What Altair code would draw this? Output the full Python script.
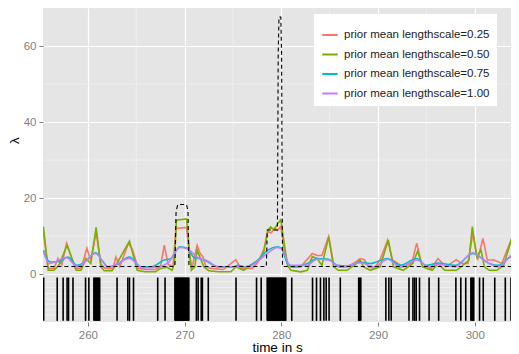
import altair as alt
import pandas as pd

labels = ["prior mean lengthscale=0.25", "prior mean lengthscale=0.50",
          "prior mean lengthscale=0.75", "prior mean lengthscale=1.00"]
colors = ["#F8766D", "#7CAE00", "#00BFC4", "#C77CFF"]

t_025 = [255.4, 255.9, 256.5, 256.9, 257.3, 257.8, 258.7, 259.3, 259.9, 260.3, 260.85, 261.35, 261.8,
         262.6, 262.9, 263.3, 264.2, 264.6, 265.2, 266.0, 267.0, 267.5, 267.9, 268.3, 268.8, 269.1,
         270.2, 270.5, 270.75, 271.3, 271.6, 271.9, 272.2, 272.7, 274.0, 275.3, 275.8, 277.0, 277.6,
         278.2, 278.6, 278.95, 279.3, 279.6, 279.95, 280.3, 280.65, 281.0, 282.0, 283.2, 283.7, 284.2,
         284.9, 285.4, 286.0, 286.8, 287.6, 288.15, 288.6, 289.0, 289.6, 290.2, 291.0, 291.5, 292.6,
         293.5, 294.0, 294.5, 295.5, 296.2, 297.0, 298.1, 298.6, 299.3, 299.8, 300.3, 300.85, 301.3,
         302.0, 302.8, 303.75, 304.0]
v_025 = [11.0, 1.5, 1.5, 4.1, 2.5, 8.1, 1.5, 1.5, 6.8, 3.5, 11.0, 2.5, 1.5,
         1.5, 4.5, 2.0, 8.1, 6.5, 1.5, 1.2, 1.2, 2.0, 7.6, 2.5, 2.0, 12.0,
         12.3, 5.0, 1.5, 7.6, 5.5, 4.5, 2.0, 1.5, 1.2, 3.8, 1.5, 1.5, 3.2,
         6.5, 11.2, 10.8, 12.1, 11.5, 12.5, 6.5, 2.8, 1.9, 1.9, 5.4, 4.9, 4.9,
         9.9, 2.8, 1.9, 1.9, 3.0, 4.1, 3.8, 1.9, 1.5, 3.7, 9.0, 3.7, 1.9,
         3.0, 8.1, 2.8, 1.5, 4.1, 1.9, 3.8, 2.8, 2.8, 10.7, 3.7, 9.4, 3.7,
         3.7, 2.8, 8.9, 6.5]

t_050 = [255.4, 255.9, 256.5, 257.0, 257.85, 258.8, 259.3, 259.8, 260.3, 260.85, 261.35, 261.7, 262.5,
         263.0, 264.3, 265.1, 265.9, 267.0, 267.5, 268.2, 268.7, 268.95, 269.15, 270.2, 270.5, 270.7,
         271.05, 271.3, 271.7, 272.0, 272.5, 273.5, 274.8, 275.3, 276.1, 277.6, 277.9, 278.2, 278.6,
         278.9, 279.25, 279.6, 279.95, 280.3, 280.65, 281.0, 282.0, 282.7, 283.2, 283.7, 284.2, 284.9,
         285.4, 285.9, 286.8, 287.8, 288.15, 288.5, 289.2, 290.2, 291.06, 291.6, 292.6, 293.6, 294.1,
         294.6, 295.6, 296.2, 296.9, 298.1, 298.6, 299.4, 299.75, 300.2, 300.65, 301.0, 301.5, 302.3,
         303.0, 303.75, 304.0]
v_050 = [12.5, 1.0, 1.0, 2.3, 7.6, 1.0, 1.0, 4.1, 2.8, 12.3, 1.9, 0.9, 0.9,
         2.8, 8.7, 1.0, 0.6, 0.6, 1.5, 1.8, 1.0, 2.8, 14.2, 14.5, 6.3, 1.0,
         1.9, 6.3, 3.7, 1.9, 0.9, 0.6, 0.6, 1.9, 1.0, 3.7, 4.1, 6.0, 11.6,
         12.4, 11.6, 13.2, 14.3, 8.1, 2.3, 1.0, 0.6, 1.0, 4.6, 4.1, 2.3, 9.8,
         1.9, 1.0, 1.0, 2.8, 3.7, 1.9, 1.0, 1.9, 8.9, 1.9, 1.0, 2.8, 6.1,
         1.9, 1.0, 2.8, 1.0, 1.0, 1.9, 3.7, 12.5, 4.6, 6.3, 1.9, 1.0, 1.0,
         2.3, 8.8, 7.0]

t_075 = [255.4, 255.8, 256.2, 257.1, 257.9, 258.9, 259.6, 260.8, 261.5, 262.1, 263.0, 264.3, 265.5,
         266.5, 267.9, 268.6, 269.5, 270.3, 271.0, 271.6, 272.2, 273.5, 275.0, 275.5, 276.2, 277.6,
         278.6, 279.6, 280.0, 280.65, 281.3, 282.7, 283.7, 284.9, 285.8, 286.8, 288.2, 289.2, 291.0,
         292.3, 294.0, 295.0, 296.2, 298.0, 299.8, 301.5, 302.5, 303.8, 304.0]
v_075 = [6.3, 3.8, 3.2, 3.3, 4.5, 2.3, 3.0, 5.6, 3.5, 1.9, 2.5, 4.5, 1.9,
         1.9, 3.7, 4.1, 7.2, 6.8, 4.3, 4.1, 3.5, 1.9, 1.9, 2.3, 1.9, 3.7,
         6.3, 7.2, 6.8, 2.8, 1.9, 2.8, 4.1, 3.9, 2.3, 2.1, 3.2, 2.8, 4.1,
         2.3, 4.1, 2.3, 2.9, 2.3, 5.4, 2.8, 2.3, 4.5, 4.5]

t_100 = [255.4, 256.0, 257.8, 258.9, 260.8, 262.1, 264.3, 265.7, 267.3, 268.3, 269.5, 270.3, 271.5,
         272.3, 273.5, 275.3, 276.5, 277.6, 278.6, 279.6, 280.1, 280.9, 282.6, 283.7, 284.9, 286.1,
         288.2, 289.6, 291.0, 292.3, 294.0, 295.3, 296.2, 298.0, 299.8, 300.8, 301.5, 302.5, 303.8, 304.0]
v_100 = [6.0, 2.8, 4.3, 1.9, 5.4, 1.8, 4.1, 1.6, 1.9, 3.0, 7.0, 6.6, 4.1,
         3.6, 1.8, 1.9, 1.8, 3.5, 5.5, 7.0, 6.5, 2.3, 2.3, 3.9, 3.7, 1.8,
         3.0, 1.9, 3.9, 1.8, 3.7, 1.8, 2.6, 1.9, 5.6, 4.0, 2.8, 1.9, 4.8, 4.8]

true_t = [255.4, 269.0, 269.12, 269.3, 270.2, 270.35, 270.45, 278.45, 278.55, 279.6, 279.68,
          279.76, 279.95, 280.03, 280.12, 304.0]
true_v = [2.0, 2.0, 16.5, 18.3, 18.3, 16.5, 2.0, 2.0, 11.6, 11.6, 58.0,
          67.6, 67.6, 58.0, 2.0, 2.0]

spike_times = [255.43, 256.83, 257.44, 257.85, 258.0, 258.46, 259.76, 260.10,
               260.62, 260.72, 260.82, 260.92, 261.02, 261.12, 261.22,
               263.02, 264.13, 264.3, 264.72, 267.22, 267.98,
               269.0, 269.08, 269.16, 269.24, 269.32, 269.4, 269.48, 269.56, 269.64, 269.72,
               269.8, 269.88, 269.96, 270.04, 270.12, 270.2, 270.28, 270.36, 270.44,
               271.22, 271.4, 271.72, 271.84, 272.45, 275.32, 277.44, 277.92,
               278.54, 278.62, 278.7, 278.78, 278.86, 278.94, 279.02, 279.1, 279.18, 279.26,
               279.34, 279.42, 279.5, 279.58, 279.66, 279.74, 279.82, 279.9, 279.98, 280.06,
               280.14, 280.22, 280.3, 280.38, 280.46,
               281.08, 283.23, 283.64, 284.05, 284.4, 284.64, 284.94, 286.1,
               288.0, 288.1, 288.22,
               290.81, 291.12, 291.36, 293.2, 293.61, 293.78, 293.95, 294.29, 295.28, 296.27,
               298.05, 298.56, 299.07, 299.6, 299.7, 299.8, 299.9,
               300.5, 300.88, 302.07, 303.16, 303.75]

x_ticks = [260, 270, 280, 290, 300]
y_ticks = [0, 20, 40, 60]
x_minor = [265, 275, 285, 295]
y_minor = [10, 30, 50]
raster_rows = [-2.0, -3.5, -5.1, -6.6, -7.9, -9.5, -10.8]

FONT = "Liberation Sans"

rows = []
for lab, ts, vs in zip(labels, [t_025, t_050, t_075, t_100], [v_025, v_050, v_075, v_100]):
    for t, v in zip(ts, vs):
        rows.append({"t": t, "v": v, "series": lab})
df = pd.DataFrame(rows)
df_spiky = df[df.series.isin(labels[:2])]
df_smooth = df[df.series.isin(labels[2:])]
df_true = pd.DataFrame({"t": true_t, "v": true_v})
df_spk = pd.DataFrame({"t": spike_times})
df_xm = pd.DataFrame({"t": x_minor})
df_ym = pd.DataFrame({"v": y_minor})
df_rr = pd.DataFrame({"v": raster_rows})

xs = alt.Scale(domain=[255.36, 303.75], nice=False, zero=False)
ys = alt.Scale(domain=[-12.6, 70.0], nice=False, zero=False)
cs = alt.Scale(domain=labels, range=colors)

x_axis = alt.Axis(values=x_ticks, title="time in s", format="d", grid=True,
                  titleY=29, titleBaseline="alphabetic")
y_axis = alt.Axis(values=y_ticks, title="λ", format="d", grid=True,
                  titleX=-25, titleY=132, titleBaseline="alphabetic")


def X():
    return alt.X("t:Q", scale=xs, axis=x_axis)


def Y():
    return alt.Y("v:Q", scale=ys, axis=y_axis)


xm = alt.Chart(df_xm).mark_rule(color="#F2F2F2", strokeWidth=0.7).encode(x=X())
ym = alt.Chart(df_ym).mark_rule(color="#F2F2F2", strokeWidth=0.7).encode(y=Y())
rr = alt.Chart(df_rr).mark_rule(color="#EFEFEF", strokeWidth=1).encode(y=Y())

spikes = alt.Chart(df_spk).mark_rule(color="black", strokeWidth=1.6, clip=True).encode(
    x=X(),
    y=alt.datum(-0.9),
    y2=alt.datum(-12.3),
)

legend = alt.Legend(title=" ", titleFontSize=5, titlePadding=0, orient="none",
                    legendX=271, legendY=6, direction="vertical",
                    fillColor="white", padding=7, symbolType="stroke",
                    symbolSize=240, symbolStrokeWidth=2, labelFont=FONT,
                    labelFontSize=11.5, labelColor="#222222", rowPadding=4.5,
                    labelOffset=5)

spiky = alt.Chart(df_spiky).mark_line(strokeWidth=1.6, clip=True).encode(
    x=X(), y=Y(),
    color=alt.Color("series:N", scale=cs, legend=legend),
    detail="series:N",
)
smooth = alt.Chart(df_smooth).mark_line(strokeWidth=1.6, interpolate="monotone", clip=True).encode(
    x=X(), y=Y(),
    color=alt.Color("series:N", scale=cs, legend=legend),
    detail="series:N",
)
truth = alt.Chart(df_true).mark_line(color="black", strokeWidth=1.1, strokeDash=[4, 3], clip=True).encode(
    x=X(), y=Y(),
)

chart = alt.layer(xm, ym, rr, spikes, spiky, smooth, truth).properties(
    width=468, height=314,
    autosize=alt.AutoSizeParams(type="none"),
    padding={"left": 35, "top": 0, "right": 0, "bottom": 32},
).configure_view(
    fill="#E5E5E5", stroke=None
).configure_axis(
    domain=False, gridColor="white", gridWidth=1.2,
    tickColor="#7F7F7F", tickSize=4, tickWidth=1,
    labelFont=FONT, labelFontSize=11.5, labelColor="#7F7F7F", labelPadding=3,
    titleFont=FONT, titleFontSize=13.5, titleColor="black", titleFontWeight="normal",
).resolve_scale(color="shared")

chart.save("out.html", embed_options={"renderer": "svg", "actions": False})
